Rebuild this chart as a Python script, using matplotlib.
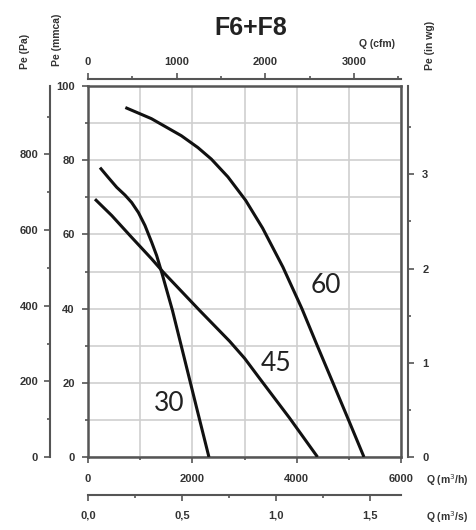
import matplotlib
matplotlib.use("Agg")
import matplotlib.pyplot as plt
from matplotlib.ticker import FixedLocator, FuncFormatter

# Data (Q in m3/h, Pe in mmca)
q30 = [230, 391, 550, 709, 837, 966, 1092, 1220, 1316, 1412, 1619, 1856, 2094, 2318]
p30 = [78.0, 75.3, 72.7, 70.6, 68.6, 65.9, 62.4, 57.9, 54.3, 49.8, 39.5, 26.1, 12.6, 0]

q45 = [134, 454, 837, 1220, 1444, 2140, 2715, 3002, 3289, 3864, 4400]
p45 = [69.5, 65.1, 59.2, 53.4, 49.8, 39.5, 31.2, 26.6, 21.2, 10.5, 0]

q60 = [716, 1215, 1789, 2107, 2364, 2682, 3021, 3347, 3736, 4100, 4395, 4695, 4994, 5290]
p60 = [94.2, 91.2, 86.6, 83.4, 80.3, 75.5, 69.2, 61.7, 51.2, 40.0, 30.0, 20.0, 10.0, 0]

curve_names = ["30", "45", "60"]
label_pos = [(1565, 14.5), (3609, 25.3), (4567, 46.2)]

W, H = 476, 530
AX_COL = "#555555"
TXT_COL = "#333333"
tick_font = {"family": "Liberation Sans", "weight": "bold", "size": 8}

fig = plt.figure(figsize=(W / 100, H / 100), dpi=100)
ax = fig.add_axes([88 / W, 1 - 457 / H, 313 / W, 371 / H])

for q, p in [(q30, p30), (q45, p45), (q60, p60)]:
    ax.plot(q, p, color="#111111", lw=2.2, solid_capstyle="butt",
            solid_joinstyle="round", zorder=3)

for name, (x, y) in zip(curve_names, label_pos):
    ax.text(x, y, name, fontsize=19, family="Lato", color="#222222",
            ha="center", va="center", zorder=4)

ax.set_xlim(0, 6000)
ax.set_ylim(0, 100)
ax.set_xticks([0, 2000, 4000, 6000])
ax.set_xticks([1000, 3000, 5000], minor=True)
ax.set_yticks([0, 20, 40, 60, 80, 100])
ax.set_yticks([10, 30, 50, 70, 90], minor=True)
ax.grid(which="both", color="#cfcfcf", lw=1.2, zorder=0)
for s in ax.spines.values():
    s.set_color(AX_COL)
    s.set_linewidth(1.8)
ax.tick_params(which="both", direction="out", color=AX_COL, width=1.2)
ax.tick_params(which="major", length=4.5)
ax.tick_params(which="minor", length=2.5)
ax.tick_params(axis="y", pad=5)
ax.tick_params(axis="x", pad=8)


def style(sec, axis, pad):
    sec.tick_params(which="both", direction="out", color=AX_COL, width=1.2)
    sec.tick_params(which="major", length=4.5, pad=pad)
    sec.tick_params(which="minor", length=2.5)
    for s in sec.spines.values():
        s.set_color(AX_COL)
        s.set_linewidth(1.5)
    labels = sec.get_xticklabels() if axis == "x" else sec.get_yticklabels()
    for t in labels:
        t.set(**tick_font, color=TXT_COL)


# Pa axis on the far left
pa = ax.secondary_yaxis(-38 / 313, functions=(lambda m: m * 9.80665, lambda p: p / 9.80665))
pa.set_yticks([0, 200, 400, 600, 800])
pa.yaxis.set_minor_locator(FixedLocator([100, 300, 500, 700, 900]))
style(pa, "y", 4)

# in wg axis on the right
wg = ax.secondary_yaxis(1 + 6.6 / 313, functions=(lambda m: m / 25.4, lambda w: w * 25.4))
wg.set_yticks([0, 1, 2, 3])
wg.yaxis.set_minor_locator(FixedLocator([0.5, 1.5, 2.5, 3.5]))
style(wg, "y", 6)

# cfm axis on top
cfm = ax.secondary_xaxis(1 + 7 / 371, functions=(lambda q: q / 1.699, lambda c: c * 1.699))
cfm.set_xticks([0, 1000, 2000, 3000])
cfm.xaxis.set_minor_locator(FixedLocator([500, 1500, 2500, 3500]))
style(cfm, "x", 4)

# m3/s axis below
ms = ax.secondary_xaxis(-38 / 371, functions=(lambda q: q / 3600, lambda s: s * 3600))
ms.set_xticks([0, 0.5, 1.0, 1.5])
ms.xaxis.set_minor_locator(FixedLocator([0.25, 0.75, 1.25]))
ms.xaxis.set_major_formatter(FuncFormatter(lambda v, p: f"{v:.1f}".replace(".", ",")))
style(ms, "x", 7)

for t in ax.get_xticklabels() + ax.get_yticklabels():
    t.set(**tick_font, color=TXT_COL)


def ptext(x, y, s, color=TXT_COL, **kw):
    fig.text(x / W, 1 - y / H, s, ha="center", va="center", color=color, **kw)


ptext(251, 28, "F6+F8", fontsize=18, family="Liberation Sans", weight="bold", color="#222222")
lab = {"family": "Liberation Sans", "weight": "bold", "size": 7.5}
ptext(377, 44, "Q (cfm)", **lab)
ptext(447, 480, "Q (m$^3$/h)", **lab)
ptext(447, 517, "Q (m$^3$/s)", **lab)
ptext(25, 51, "Pe (Pa)", rotation=90, **lab)
ptext(57, 40, "Pe (mmca)", rotation=90, **lab)
ptext(430, 45, "Pe (in wg)", rotation=90, **lab)

fig.savefig("out.png", dpi=100)
